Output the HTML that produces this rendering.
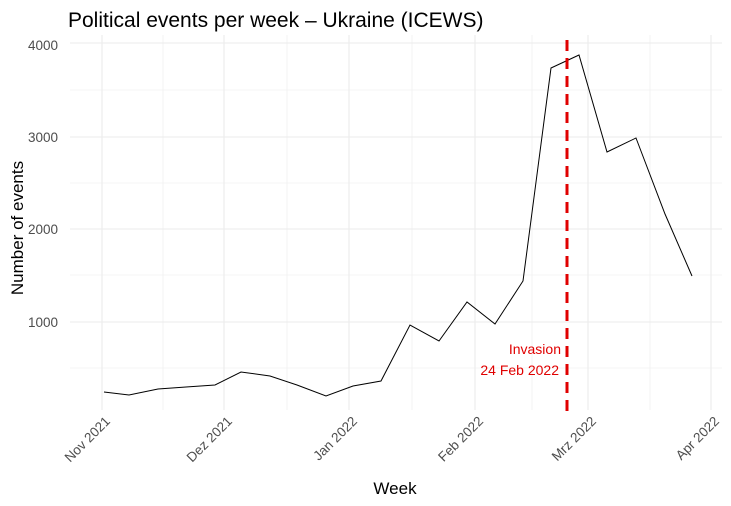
<!DOCTYPE html>
<html><head><meta charset="utf-8"><style>
body{margin:0;background:#fff;}
svg{display:block;font-family:"Liberation Sans",sans-serif;}
</style></head><body>
<svg width="731" height="506" xmlns="http://www.w3.org/2000/svg">
<rect width="731" height="506" fill="#fff"/>
<g stroke="#ebebeb" stroke-width="0.6">
<line x1="70" x2="722" y1="90" y2="90"/><line x1="70" x2="722" y1="183" y2="183"/>
<line x1="70" x2="722" y1="275" y2="275"/><line x1="70" x2="722" y1="368" y2="368"/>
<line x1="163" x2="163" y1="35" y2="410"/><line x1="287" x2="287" y1="35" y2="410"/>
<line x1="412" x2="412" y1="35" y2="410"/><line x1="532" x2="532" y1="35" y2="410"/>
<line x1="650" x2="650" y1="35" y2="410"/>
</g>
<g stroke="#ebebeb" stroke-width="1.1">
<line x1="70" x2="722" y1="43" y2="43"/><line x1="70" x2="722" y1="137" y2="137"/>
<line x1="70" x2="722" y1="229" y2="229"/><line x1="70" x2="722" y1="322" y2="322"/>
<line x1="102" x2="102" y1="35" y2="410"/><line x1="224" x2="224" y1="35" y2="410"/>
<line x1="349" x2="349" y1="35" y2="410"/><line x1="475" x2="475" y1="35" y2="410"/>
<line x1="588" x2="588" y1="35" y2="410"/><line x1="711" x2="711" y1="35" y2="410"/>
</g>
<polyline fill="none" stroke="#000" stroke-width="1" points="104,392 129,395 158,389 186,387 215,385 241,372 270,376 297,385 326,396 353,386 381,381 410,325 439,341 467,302 495,324 523,281 551,68 579,55 607,152 636,138 665,214 692,276"/>
<line x1="567" x2="567" y1="40" y2="412" stroke="#e00000" stroke-width="3" stroke-dasharray="11,7"/>
<text x="561" y="354" fill="#e00000" font-size="14" text-anchor="end">Invasion</text>
<text x="559" y="375" fill="#e00000" font-size="14" text-anchor="end">24 Feb 2022</text>
<g font-size="13.5" fill="#4d4d4d" text-anchor="end">
<text x="58" y="50">4000</text><text x="58" y="142">3000</text>
<text x="58" y="234">2000</text><text x="58" y="327">1000</text>
</g>
<g font-size="13.5" fill="#4d4d4d" text-anchor="end">
<text transform="translate(111,422) rotate(-45)">Nov 2021</text>
<text transform="translate(233,422) rotate(-45)">Dez 2021</text>
<text transform="translate(358,422) rotate(-45)">Jan 2022</text>
<text transform="translate(484,422) rotate(-45)">Feb 2022</text>
<text transform="translate(597,422) rotate(-45)">Mrz 2022</text>
<text transform="translate(720,422) rotate(-45)">Apr 2022</text>
</g>
<text x="395" y="494" font-size="17" text-anchor="middle">Week</text>
<text transform="translate(23,228) rotate(-90)" font-size="17" text-anchor="middle">Number of events</text>
<text x="68" y="27" font-size="21">Political events per week – Ukraine (ICEWS)</text>
</svg>
</body></html>
